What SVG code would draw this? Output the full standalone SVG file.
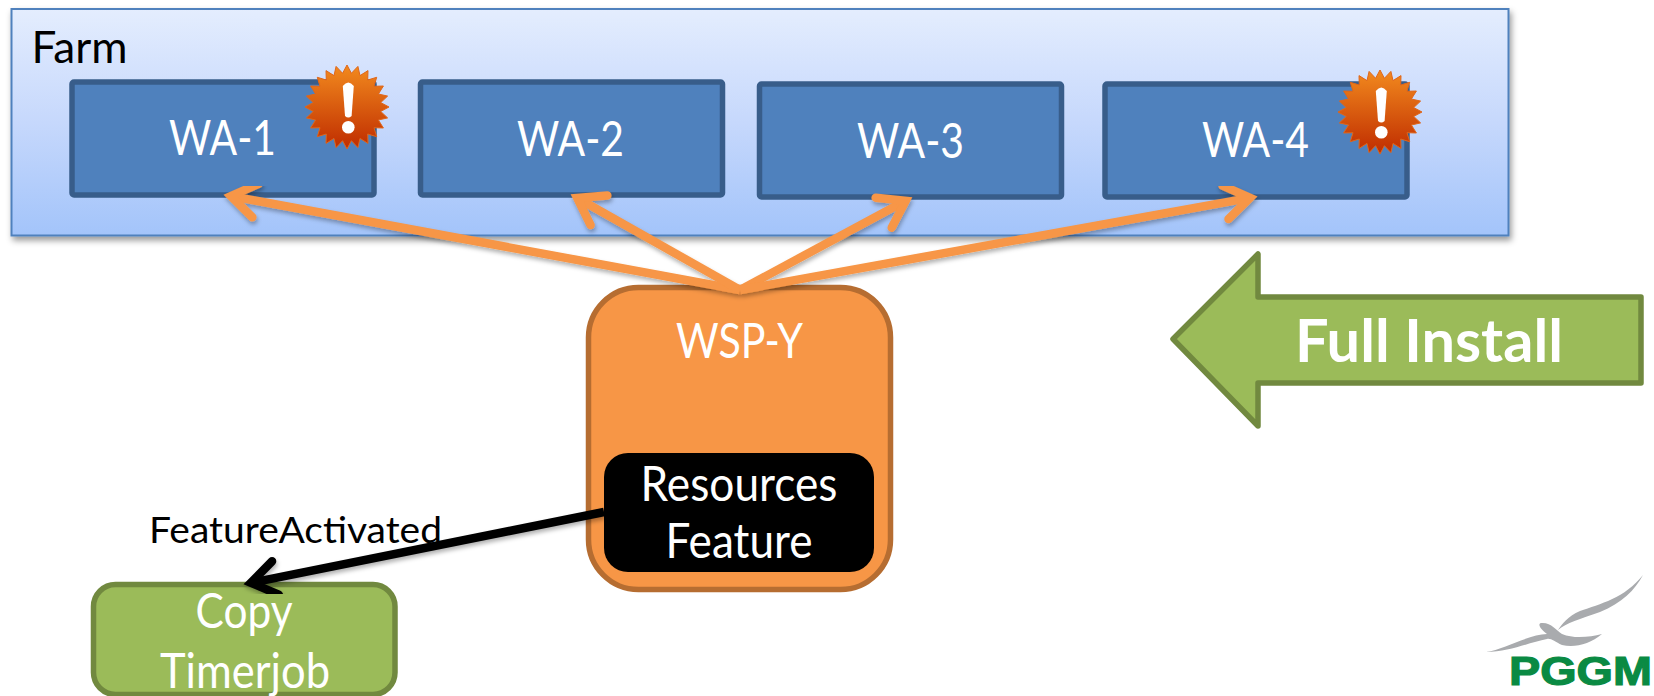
<svg xmlns="http://www.w3.org/2000/svg" xmlns:xlink="http://www.w3.org/1999/xlink" width="1654" height="696" viewBox="0 0 1654 696">
<style>
text{font-family:Lato,"Liberation Sans",sans-serif;text-anchor:middle}
.w{fill:#fff;font-size:48px}
.k{fill:#000}
.wa{fill:#4f81bd;stroke:#385d8a;stroke-width:5.5}
.or{fill:none;stroke:#f79646;stroke-width:8.5}
</style>
<defs>
<linearGradient id="farmFill" x1="0" y1="0" x2="0" y2="1"><stop offset="0" stop-color="#e4edfe"/><stop offset="0.5" stop-color="#c6d8fc"/><stop offset="1" stop-color="#a3c4fa"/></linearGradient>
<linearGradient id="burst" x1="0" y1="0" x2="0" y2="1"><stop offset="0" stop-color="#f28a1e"/><stop offset="1" stop-color="#bf2c00"/></linearGradient>
<filter id="shadow" x="-5%" y="-10%" width="110%" height="125%"><feDropShadow dx="2" dy="4" stdDeviation="3" flood-color="#000" flood-opacity="0.4"/></filter>
<filter id="lineShadow" x="-5%" y="-10%" width="110%" height="125%"><feDropShadow dx="1" dy="3" stdDeviation="2" flood-color="#000" flood-opacity="0.3"/></filter>
<marker id="headO" markerUnits="userSpaceOnUse" markerWidth="60" markerHeight="60" viewBox="-40 -30 60 60" refX="0" refY="0" orient="auto"><path d="M-25,-17 L0,0 L-25,17" fill="none" stroke="#f79646" stroke-width="8.500" stroke-linecap="round" stroke-linejoin="miter"/></marker>
<marker id="headK" markerUnits="userSpaceOnUse" markerWidth="60" markerHeight="60" viewBox="-40 -30 60 60" refX="0" refY="0" orient="auto"><path d="M-25,-17 L0,0 L-25,17" fill="none" stroke="#000" stroke-width="8.500" stroke-linecap="round" stroke-linejoin="miter"/></marker>
<g id="alert">
<polygon fill="url(#burst)" stroke="#e0661a" stroke-width="1" points="42,0 33.7,4.4 40.6,10.9 31.4,13 36.4,21 27,20.7 29.7,29.7 20.7,27 21,36.4 13,31.4 10.9,40.6 4.4,33.7 0,42 -4.4,33.7 -10.9,40.6 -13,31.4 -21,36.4 -20.7,27 -29.7,29.7 -27,20.7 -36.4,21 -31.4,13 -40.6,10.9 -33.7,4.4 -42,0 -33.7,-4.4 -40.6,-10.9 -31.4,-13 -36.4,-21 -27,-20.7 -29.7,-29.7 -20.7,-27 -21,-36.4 -13,-31.4 -10.9,-40.6 -4.4,-33.7 0,-42 4.4,-33.7 10.9,-40.6 13,-31.4 21,-36.4 20.7,-27 29.7,-29.7 27,-20.7 36.4,-21 31.4,-13 40.6,-10.9 33.7,-4.4"/>
<path d="M-4.2,-21 Q1.3,-28 6.8,-21 L4.6,9 Q1.3,12 -2,9 Z" fill="#fff"/>
<circle cx="1.3" cy="20.3" r="6.3" fill="#fff"/>
</g>
</defs>
<rect width="1654" height="696" fill="#fff"/>
<g id="farm">
<rect x="11.5" y="9" width="1497" height="226.500" fill="url(#farmFill)" stroke="#4f81bd" stroke-width="2" filter="url(#shadow)"/>
<text class="k" x="79.500" y="63" font-size="44" textLength="96" lengthAdjust="spacingAndGlyphs">Farm</text>
</g>
<g id="wa-1"><rect class="wa" x="72" y="82" width="302" height="113" rx="2"/><text class="w" x="222.500" y="155" textLength="107" lengthAdjust="spacingAndGlyphs">WA-1</text></g>
<g id="wa-2"><rect class="wa" x="420.500" y="82" width="302" height="113" rx="2"/><text class="w" x="570.500" y="156" textLength="107" lengthAdjust="spacingAndGlyphs">WA-2</text></g>
<g id="wa-3"><rect class="wa" x="759.500" y="84" width="302" height="113" rx="2"/><text class="w" x="910.500" y="158" textLength="107" lengthAdjust="spacingAndGlyphs">WA-3</text></g>
<g id="wa-4"><rect class="wa" x="1105" y="84" width="302" height="113" rx="2"/><text class="w" x="1255.500" y="157" textLength="107" lengthAdjust="spacingAndGlyphs">WA-4</text></g>
<g id="alert-1"><use href="#alert" x="347" y="107"/></g>
<g id="alert-4"><use href="#alert" x="1380" y="112"/></g>
<g id="wsp-y">
<rect x="588.500" y="287.500" width="302" height="302" rx="50" fill="#f79646" stroke="#b66d31" stroke-width="5.500"/>
<text class="w" x="739.500" y="358" textLength="127" lengthAdjust="spacingAndGlyphs">WSP-Y</text>
</g>
<g id="resources-feature">
<rect x="604" y="453" width="270" height="119" rx="24" fill="#000"/>
<text class="w" x="739" y="501" textLength="197" lengthAdjust="spacingAndGlyphs">Resources</text>
<text class="w" x="739" y="558" textLength="147" lengthAdjust="spacingAndGlyphs">Feature</text>
</g>
<g id="copy-timerjob">
<rect x="93.500" y="584.500" width="301.500" height="110" rx="22" fill="#9bbb59" stroke="#71893f" stroke-width="5.500"/>
<text class="w" x="244" y="628" textLength="97" lengthAdjust="spacingAndGlyphs">Copy</text>
<text class="w" x="245" y="688" textLength="170" lengthAdjust="spacingAndGlyphs">Timerjob</text>
</g>
<g id="connectors">
<g filter="url(#lineShadow)">
<line class="or" x1="740" y1="290" x2="230.900" y2="196.100" marker-end="url(#headO)"/>
<line class="or" x1="740" y1="290" x2="577.200" y2="198" marker-end="url(#headO)"/>
<line class="or" x1="740" y1="290" x2="905.700" y2="200.800" marker-end="url(#headO)"/>
<line class="or" x1="740" y1="290" x2="1250.100" y2="197.900" marker-end="url(#headO)"/>
</g>
<line x1="604" y1="512" x2="250.900" y2="582.800" stroke="#000" stroke-width="8.500" marker-end="url(#headK)" filter="url(#lineShadow)"/>
</g>
<g id="feature-activated-label"><text class="k" x="295.500" y="543" font-size="37" textLength="293" lengthAdjust="spacingAndGlyphs">FeatureActivated</text></g>
<g id="full-install">
<polygon points="1173,339 1258,254 1258,297 1641,297 1641,383 1258,383 1258,426" fill="#9bbb59" stroke="#71893f" stroke-width="5.500" stroke-linejoin="round"/>
<text x="1429" y="362" fill="#fff" font-size="60" font-weight="700" textLength="268" lengthAdjust="spacingAndGlyphs">Full Install</text>
</g>
<g id="logo">
<path d="M1643,575 C1625,598 1600,604 1580,611 C1568,616 1562,624 1558,630 C1566,623 1580,619 1600,612 C1622,603 1635,590 1643,575 Z" fill="#a9abae"/>
<path d="M1486,652 C1505,649 1530,634 1547,634 C1541,630 1537,624 1541,623 C1551,622 1556,630 1562,634 C1574,639 1590,637 1602,634 C1590,644 1575,648 1562,645 C1555,642 1551,638 1547,639 C1530,642 1510,652 1486,652 Z" fill="#a9abae"/>
<text x="1580.500" y="685" fill="#0a8a43" stroke="#0a8a43" stroke-width="1.200" font-size="41" font-weight="700" style="font-family:'Liberation Sans',sans-serif" textLength="143" lengthAdjust="spacingAndGlyphs">PGGM</text>
</g>
</svg>
